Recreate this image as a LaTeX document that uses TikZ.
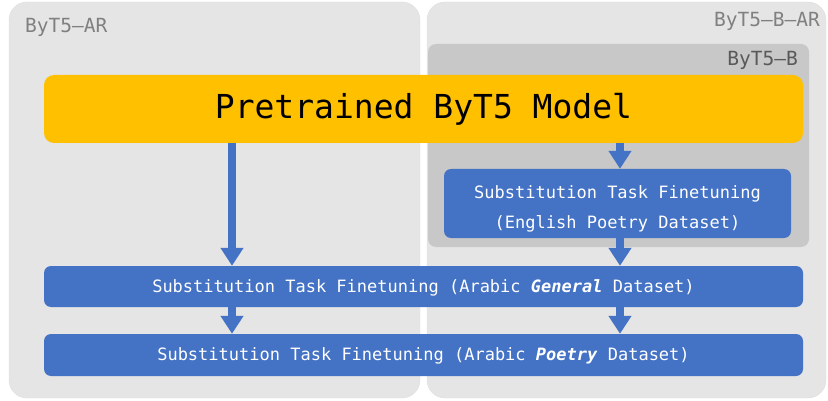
\documentclass[tikz,border=0pt]{standalone}
\usepackage{fontspec}
\setmonofont{DejaVu Sans Mono}
\usetikzlibrary{arrows.meta}

\definecolor{panelgray}{HTML}{E5E5E5}
\definecolor{innergray}{HTML}{C8C8C8}
\definecolor{modelyellow}{HTML}{FFC000}
\definecolor{taskblue}{HTML}{4472C4}

\begin{document}
\begin{tikzpicture}[x=1pt, y=-1pt,
	panel/.style={fill=panelgray, draw=black!13, rounded corners=18pt},
	tag/.style={font=\ttfamily\fontsize{19.5}{22}\selectfont, inner sep=0pt},
	stage/.style={fill=taskblue, text=white, rounded corners=7pt, inner sep=0pt,
		font=\ttfamily\fontsize{17}{30}\selectfont, align=center},
	flow/.style={taskblue, line width=8pt, -{Triangle[width=22pt 0, length=18pt 0]}}]
\useasboundingbox (0,0) rectangle (828,401);

% the two model families
\draw[panel] (9,2) rectangle (420,398);
\draw[panel] (427,2) rectangle (826,398);
\fill[innergray, rounded corners=8pt] (428,44) rectangle (809,247);
\node[tag, anchor=base west, text=black!50] (artag) at (25,33) {ByT5–AR};
\node[tag, anchor=base east, text=black!50] (bartag) at (820,27) {ByT5–B–AR};
\node[tag, anchor=base east, text=black!65] (btag) at (798,66) {ByT5–B};

% pretrained model and finetuning stages
\node[fill=modelyellow, rounded corners=10pt, minimum width=759pt, minimum height=68pt,
	font=\ttfamily\fontsize{33}{36}\selectfont] (model) at (423.5,109) {Pretrained ByT5 Model};
\node[stage, minimum width=347pt, minimum height=69pt] (english) at (617.5,203.5)
	{\rule{0pt}{23pt}Substitution Task Finetuning\\(English Poetry Dataset)};
\node[stage, minimum width=759pt, minimum height=41pt] (general) at (423.5,286.5)
	{\rule{0pt}{15pt}Substitution Task Finetuning (Arabic \textbf{\textit{General}} Dataset)};
\node[stage, minimum width=759pt, minimum height=42pt] (poetry) at (423.5,355)
	{\rule{0pt}{15pt}Substitution Task Finetuning (Arabic \textbf{\textit{Poetry}} Dataset)};

\coordinate (lcol) at (232,0);
\coordinate (rcol) at (620,0);
\draw[flow] (model.south -| lcol) -- (general.north -| lcol);
\draw[flow] (model.south -| rcol) -- (english.north -| rcol);
\draw[flow] (english.south -| rcol) -- (general.north -| rcol);
\foreach \c in {lcol, rcol}
	\draw[flow] (general.south -| \c) -- (poetry.north -| \c);
\end{tikzpicture}
\end{document}
